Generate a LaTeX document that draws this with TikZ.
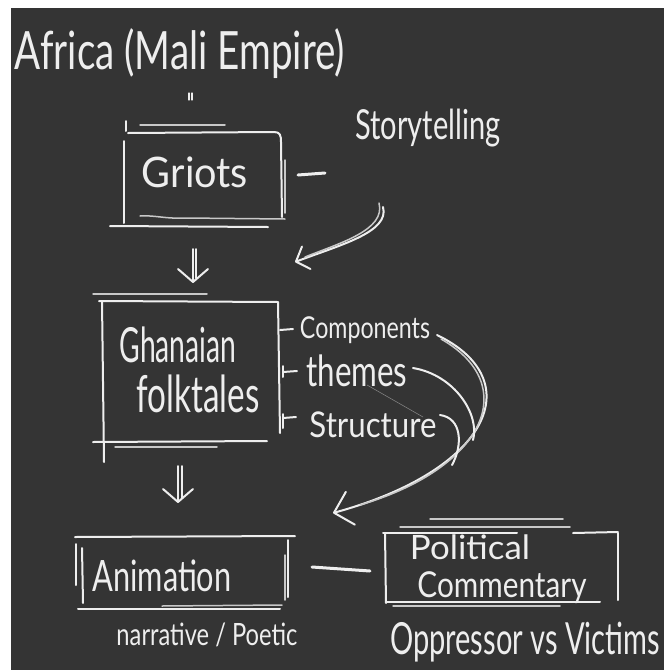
\documentclass[tikz,border=0pt]{standalone}
\usepackage{fontspec}
\setmainfont{Lato}
\usepackage{graphicx}
\usetikzlibrary{arrows.meta}
\definecolor{board}{RGB}{52,52,52}
\definecolor{chalkcol}{RGB}{238,238,238}
\definecolor{dimchalk}{RGB}{200,200,200}
\newcommand\hw[3]{\resizebox*{#1pt}{#2pt}{#3}}

\begin{document}
\begin{tikzpicture}[x=1pt,y=-1pt,
  chalk/.style={draw=chalkcol,line width=2pt,line cap=round,line join=round},
  rub/.style={draw=dimchalk,line width=1.5pt,line cap=round},
  lbl/.style={text=chalkcol,inner sep=0pt},
  barb/.style={-{Straight Barb[round,length=13pt,width=30pt]}},
  smallbarb/.style={-{Straight Barb[round,length=11pt,width=24pt]}},
  bigbarb/.style={-{Straight Barb[round,length=17pt,width=34pt]}}]
  \useasboundingbox (0,0) rectangle (664,670);
  \fill[white] (0,0) rectangle (664,670);
  \fill[board] (11,8) rectangle (664,670);
  % labels
  \node[lbl] (title) at (180,54) {\hw{330}{50}{Africa (Mali Empire)}};
  \node[lbl] (griots) at (195,172) {\hw{106}{31}{Griots}};
  \node[lbl] (story) at (428,128) {\hw{145}{38}{Storytelling}};
  \node[lbl] (ghana) at (178,345) {\hw{117}{36}{Ghanaian}};
  \node[lbl] (folk) at (198,394) {\hw{123}{38}{folktales}};
  \node[lbl] (comp) at (365,330) {\hw{130}{27}{Components}};
  \node[lbl] (themes) at (357,371) {\hw{101}{32}{themes}};
  \node[lbl] (struct) at (373,425) {\hw{127}{26}{Structure}};
  \node[lbl] (anim) at (162,576) {\hw{139}{32}{Animation}};
  \node[lbl] (narr) at (207,635) {\hw{181}{24}{narrative / Poetic}};
  \node[lbl] (polit) at (470,547) {\hw{120}{25}{Political}};
  \node[lbl] (comm) at (502,588) {\hw{169}{32}{Commentary}};
  \node[lbl] (oppr) at (525,642) {\hw{270}{40}{Oppressor vs Victims}};
  % small mark under the title
  \draw[chalk,line width=1.2pt] (189,93) -- (189,100);
  \draw[chalk,line width=1.2pt] (192,93) -- (192,100);
  % Griots box
  \draw[chalk] (128,133) -- (274,132) .. controls (280,132) and (281,135) .. (281,142) -- (282,217);
  \draw[rub] (140,125) -- (225,125);
  \draw[chalk] (126,121) -- (126,131);
  \draw[chalk] (124,141) -- (124,223);
  \draw[rub] (285,160) -- (285,213);
  \draw[chalk] (110,226) -- (268,227);
  \draw[rub] (140,216) .. controls (155,215) and (165,219) .. (185,218) -- (285,219);
  \draw[chalk,line width=3pt] (298,175) -- (325,173);
  % Ghanaian folktales box
  \draw[rub] (93,294) -- (207,294);
  \draw[chalk] (99,301) -- (278,302) -- (280,433);
  \draw[chalk] (102,301) -- (104,462);
  \draw[chalk] (93,442) -- (267,441);
  \draw[rub] (115,447) -- (217,447);
  \draw[chalk] (280,330) -- (293,329);
  \draw[chalk] (283,366) -- (283,377);
  \draw[chalk] (283,372) -- (297,371);
  \draw[chalk] (283,414) -- (283,428);
  \draw[chalk] (283,418) -- (296,417);
  \draw[draw=gray,line width=0.6pt] (367,385) -- (423,417);
  % Animation box
  \draw[chalk] (75,537) -- (295,536);
  \draw[chalk] (76,544) -- (76,585);
  \draw[chalk] (82,548) -- (83,603);
  \draw[chalk] (288,540) -- (288,597);
  \draw[rub] (285,555) -- (285,600);
  \draw[chalk] (78,609) -- (280,609);
  \draw[rub] (162,606) -- (282,605);
  \draw[chalk,line width=3pt] (312,567) -- (370,571);
  % Political Commentary box
  \draw[rub] (430,519) -- (563,519);
  \draw[rub] (400,527) -- (570,527);
  \draw[chalk] (383,533) -- (517,533);
  \draw[chalk] (573,533) -- (618,532);
  \draw[chalk] (385,533) -- (386,603);
  \draw[chalk] (618,533) -- (618,600);
  \draw[chalk] (387,602) -- (600,602);
  \draw[rub] (393,606) -- (560,606);
  % arrows
  \coordinate (g1) at (193,249); \coordinate (g2) at (193,283);
  \draw[chalk,barb] (g1) -- (g2);
  \draw[chalk] (196,249) -- (196,278);
  \coordinate (f1) at (178,466); \coordinate (f2) at (178,503);
  \draw[chalk,barb] (f1) -- (f2);
  \draw[chalk] (182,466) -- (182,498);
  \coordinate (s1) at (383,207); \coordinate (s2) at (295,262);
  \draw[chalk,smallbarb] (s1) .. controls (390,232) and (340,245) .. (s2);
  \draw[rub] (379,203) .. controls (386,230) and (340,243) .. (305,257);
  \coordinate (c1) at (437,335); \coordinate (c2) at (413,368);
  \coordinate (c3) at (440,415); \coordinate (pc) at (333,513);
  \draw[chalk,bigbarb] (c1) .. controls (530,380) and (490,470) .. (pc);
  \draw[rub] (441,339) .. controls (522,385) and (485,468) .. (360,505);
  \draw[chalk] (c2) .. controls (455,375) and (480,415) .. (473,440);
  \draw[chalk] (c3) .. controls (462,418) and (463,445) .. (452,465);
\end{tikzpicture}
\end{document}
